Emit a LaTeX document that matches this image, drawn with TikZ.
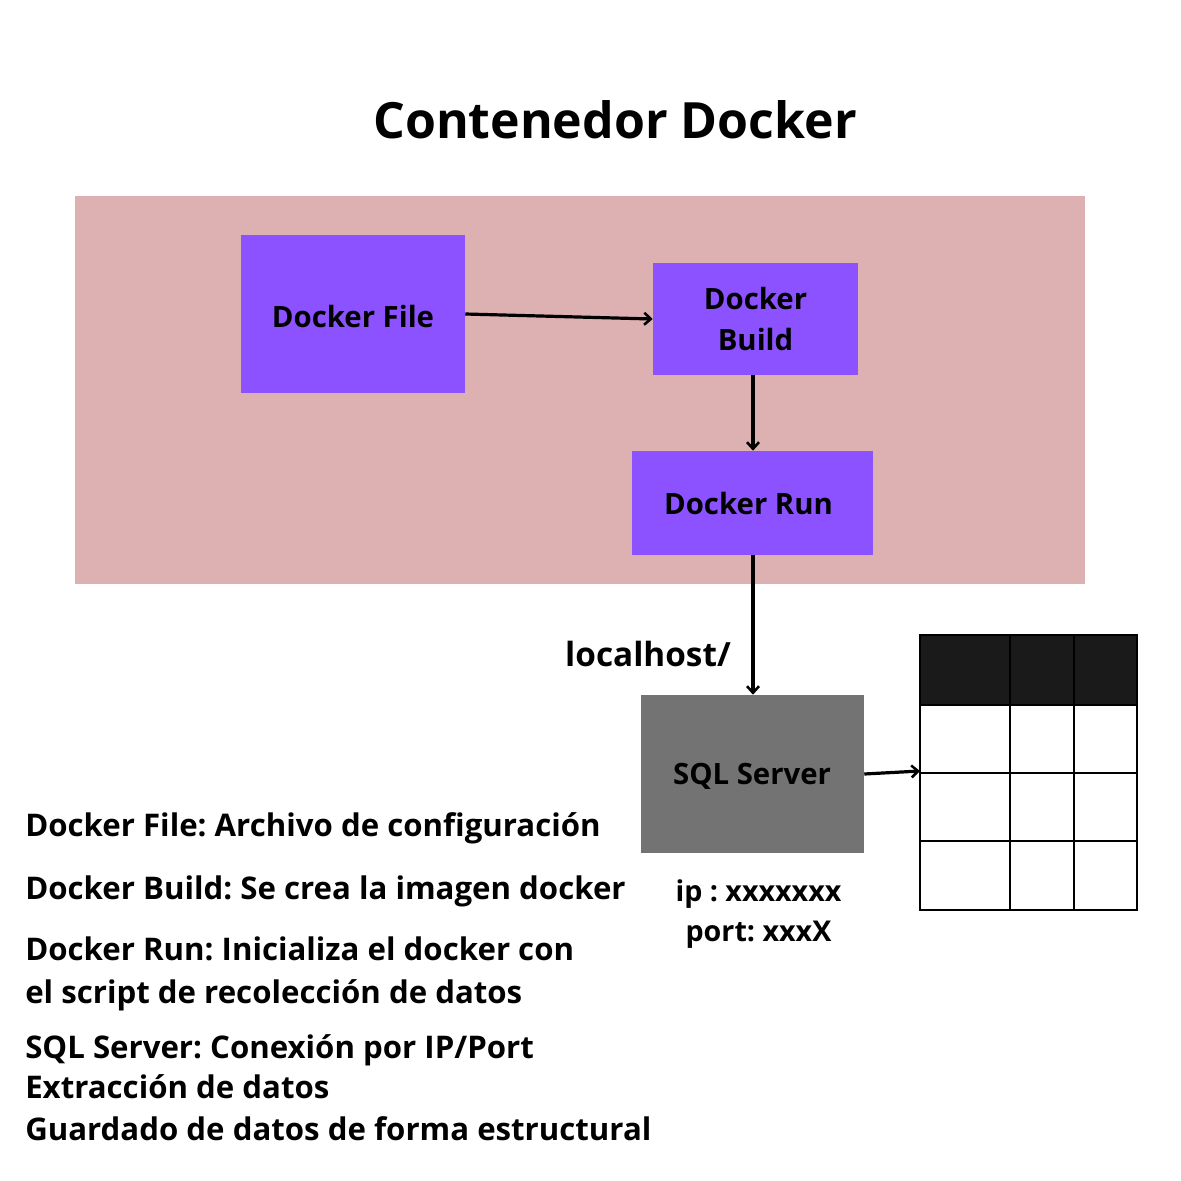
\documentclass[tikz,border=0pt]{standalone}
\usepackage{fontspec}
\setmainfont{Open Sans}
\usetikzlibrary{arrows.meta}
\frenchspacing
\definecolor{pinkbg}{HTML}{DDB0B1}
\definecolor{purp}{HTML}{8C52FF}
\definecolor{sqlgray}{HTML}{737373}
\definecolor{hdr}{HTML}{1A1A1A}
\tikzset{
  box/.style={fill=purp, draw=none, inner sep=0pt, align=center, font=\fontsize{22}{30.5}\selectfont\bfseries},
  lbl/.style={inner sep=0pt, align=center, font=\fontsize{22}{30.5}\selectfont\bfseries\frenchspacing},
  conn/.style={line width=2.4pt, -{Straight Barb[length=5pt,width=9pt,line width=1.9pt]}},
  note/.style={anchor=base west, inner sep=0pt, font=\fontsize{23.4}{31}\selectfont\bfseries\frenchspacing},
  grid/.style={line width=2.2pt, draw=black}
}
\begin{document}
\begin{tikzpicture}[x=0.75pt,y=-0.75pt]
\useasboundingbox (0,0) rectangle (1181,1181);
\fill[white] (0,0) rectangle (1181,1181);
\node[inner sep=0pt, font=\fontsize{37.5}{44}\selectfont\bfseries] (title) at (615,120) {Contenedor Docker};
\fill[pinkbg] (75,196) rectangle (1085,584);
\node[box, minimum width=224*0.75pt, minimum height=158*0.75pt] (file) at (353,314) {};
\node[lbl] (filet) at (353,316) {Docker File};
\node[box, minimum width=205*0.75pt, minimum height=112*0.75pt] (build) at (755.5,319) {Docker\\Build};
\node[box, minimum width=241*0.75pt, minimum height=104*0.75pt] (run) at (752.5,503) {};
\node[lbl] (runt) at (748.5,503) {Docker Run};
\node[box, fill=sqlgray, minimum width=223*0.75pt, minimum height=158*0.75pt] (sql) at (752.5,774) {};
\node[lbl] (sqlt) at (752,776) {SQL Server};
% table
\fill[hdr] (920,635) rectangle (1137,705);
\draw[grid] (920,635) rectangle (1137,910);
\draw[grid] (1010,635) -- (1010,910);
\draw[grid] (1074,635) -- (1074,910);
\draw[grid] (920,705) -- (1137,705);
\draw[grid] (920,773) -- (1137,773);
\draw[grid] (920,841) -- (1137,841);
\coordinate (tbl) at (920,771);
\draw[conn] (file.east) -- (build.west);
\draw[conn] (build.south -| 753,0) -- (run.north -| 753,0);
\draw[conn] (run.south -| 753,0) -- (sql.north -| 753,0);
\draw[conn] (sql.east) -- (tbl);
\node[inner sep=0pt, font=\fontsize{25}{30}\selectfont\bfseries] (lh) at (648,654) {localhost/};
\node[inner sep=0pt, align=center, font=\fontsize{21.5}{29.5}\selectfont\bfseries\frenchspacing] (ip) at (758.5,914) {ip : xxxxxxx\\port: xxxX};
\node[note] (n1) at (25,836) {Docker File: Archivo de configuración};
\node[note] (n2) at (25,899) {Docker Build: Se crea la imagen docker};
\node[note] (n3) at (25,960) {Docker Run: Inicializa el docker con};
\node[note] (n4) at (25,1003) {el script de recolección de datos};
\node[note] (n5) at (25,1058) {SQL Server: Conexión por IP/Port};
\node[note] (n6) at (25,1098) {Extracción de datos};
\node[note] (n7) at (25,1140) {Guardado de datos de forma estructural};
\end{tikzpicture}
\end{document}
